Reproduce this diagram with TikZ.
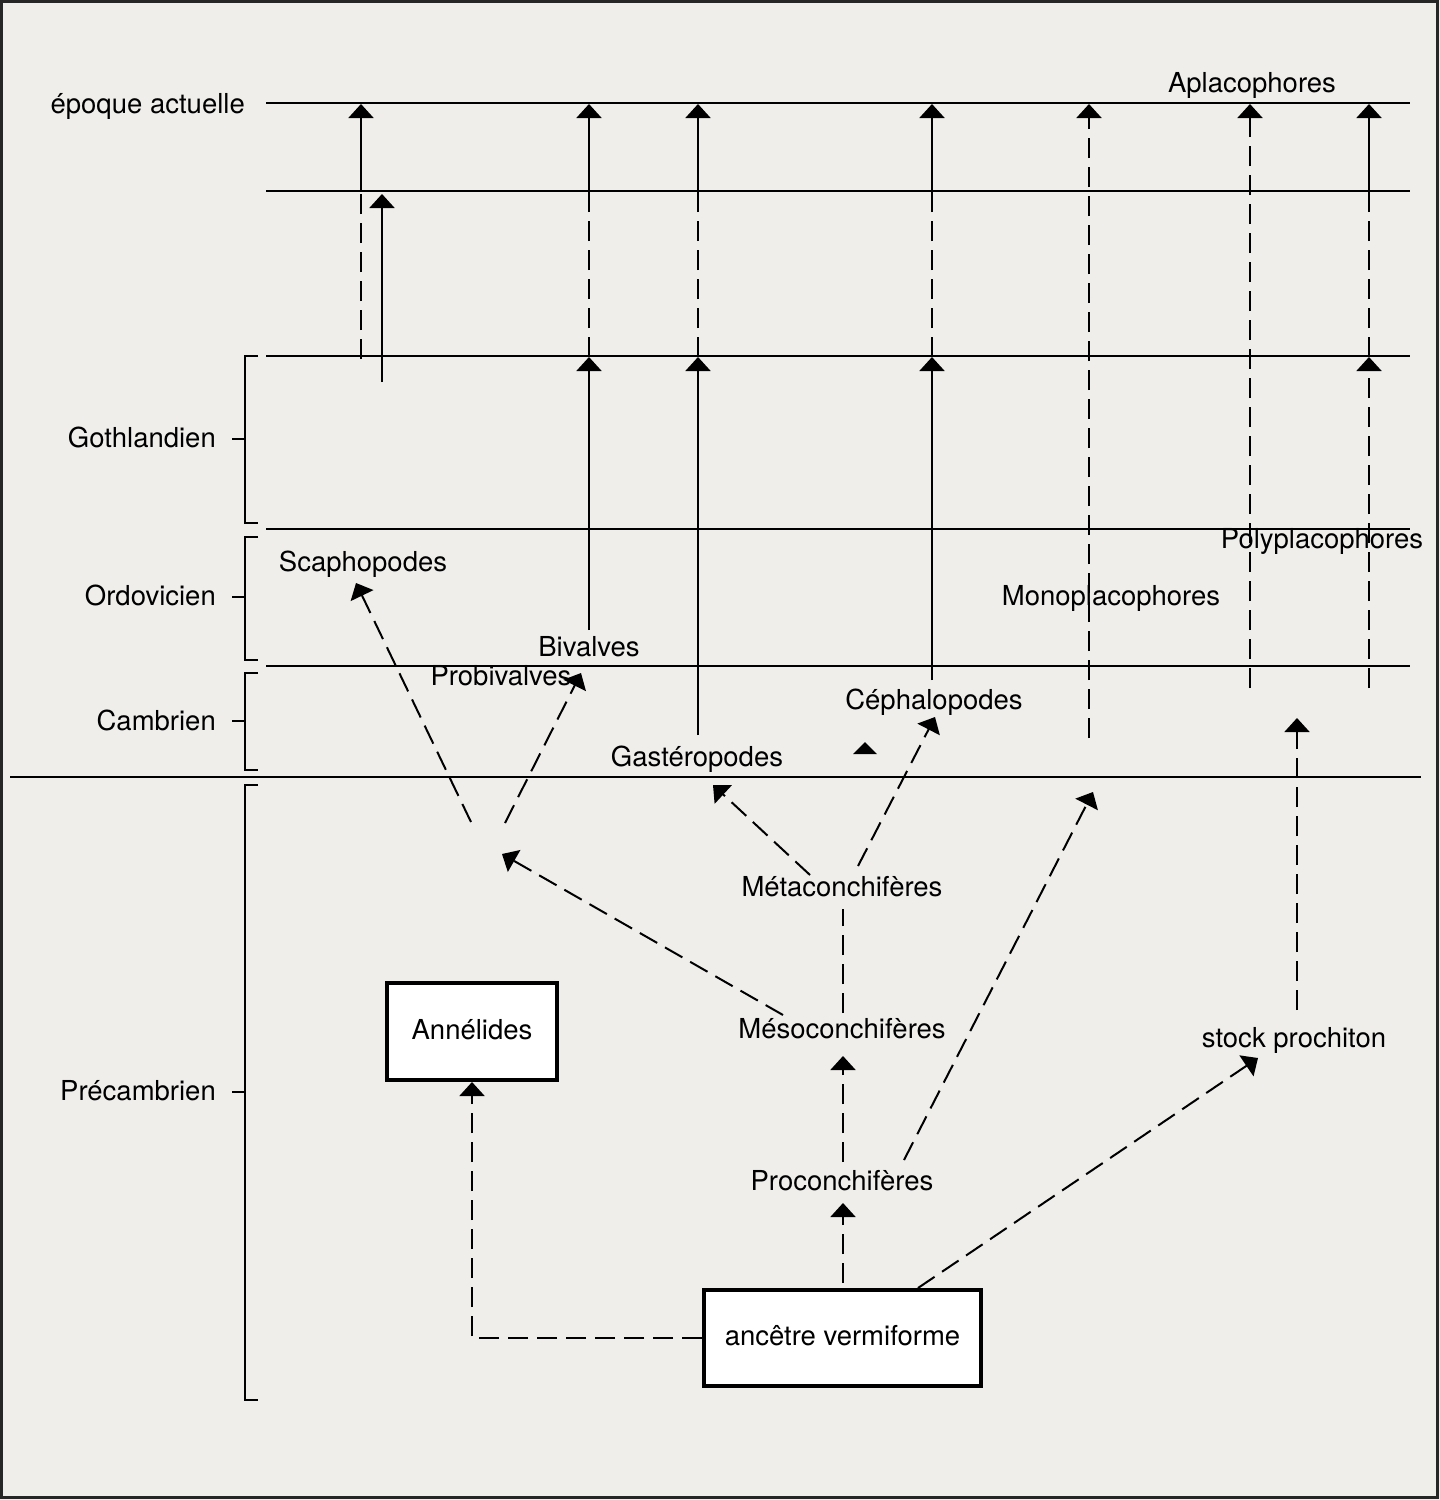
\documentclass[tikz,border=0pt]{standalone}
\usepackage{fontspec}
\setmainfont{TeX Gyre Heros}
\usetikzlibrary{arrows.meta}
\definecolor{bgc}{RGB}{240,238,235}
\newcommand{\labfont}{\fontsize{27.5}{31}\selectfont}
\begin{document}
\begin{tikzpicture}[x=1pt,y=-1pt,
  ln/.style={line width=2pt},
  dsh/.style={line width=2pt, dash pattern=on 20pt off 9pt},
  arw/.style={-{Triangle[width=25pt,length=14pt]}},
  brk/.style={line width=2.5pt},
  lbl/.style={inner sep=0pt, anchor=base, font=\labfont},
  box/.style={draw, line width=4pt, fill=white, inner sep=0pt, font=\labfont, text height=19pt, text depth=4pt}]
\fill[bgc] (0,0) rectangle (1440,1500);
\useasboundingbox (0,0) rectangle (1440,1500);
\draw[line width=3pt, draw=black!85] (1.5,1.5) rectangle (1437.5,1497.5);

% time lines
\foreach \yy in {103,191,356,529,666} \draw[ln] (266,\yy) -- (1410,\yy);
\draw[ln] (10,777) -- (1421,777);

% brackets
\draw[brk] (258,356) -- (245,356) -- (245,523) -- (258,523);
\draw[brk] (232,439) -- (245,439);
\draw[brk] (258,537) -- (245,537) -- (245,660) -- (258,660);
\draw[brk] (232,597) -- (245,597);
\draw[brk] (258,673) -- (245,673) -- (245,770) -- (258,770);
\draw[brk] (232,721) -- (245,721);
\draw[brk] (258,785) -- (245,785) -- (245,1400) -- (258,1400);
\draw[brk] (232,1092) -- (245,1092);

% period labels
\node[lbl, anchor=base east] (epoque) at (245,113) {époque actuelle};
\node[lbl, anchor=base east] (goth) at (216,447) {Gothlandien};
\node[lbl, anchor=base east] (ordo) at (216,605) {Ordovicien};
\node[lbl, anchor=base east] (camb) at (216,730) {Cambrien};
\node[lbl, anchor=base east] (preca) at (216,1100) {Précambrien};

% taxon labels
\node[lbl] (aplac) at (1252,92) {Aplacophores};
\node[lbl] (scaph) at (363,571) {Scaphopodes};
\node[lbl] (biv) at (589,656) {Bivalves};
\node[lbl] (probiv) at (501,685) {Probivalves};
\node[lbl] (gast) at (697,766) {Gastéropodes};
\node[lbl] (ceph) at (934,709) {Céphalopodes};
\node[lbl] (mono) at (1111,605) {Monoplacophores};
\node[lbl] (poly) at (1322,548) {Polyplacophores};
\node[lbl] (meta) at (842,896) {Métaconchifères};
\node[lbl] (meso) at (842,1038) {Mésoconchifères};
\node[lbl] (proc) at (842,1190) {Proconchifères};
\node[lbl] (stock) at (1294,1047) {stock prochiton};

\node[box, minimum width=277pt, minimum height=96pt] (anc) at (842.5,1338) {ancêtre vermiforme};
\node[box, minimum width=170pt, minimum height=97pt] (ann) at (472,1031.5) {Annélides};

% lineage coordinates
\coordinate (a1) at (361,359); \coordinate (a2) at (361,191); \coordinate (a3) at (361,104);
\coordinate (b1) at (382,382); \coordinate (b2) at (382,194);
\coordinate (c0) at (589,630); \coordinate (c1) at (589,357); \coordinate (c2) at (589,191); \coordinate (c3) at (589,104);
\coordinate (d0) at (698,735); \coordinate (d1) at (698,357); \coordinate (d2) at (698,191); \coordinate (d3) at (698,104);
\coordinate (e0) at (932,680); \coordinate (e1) at (932,357); \coordinate (e2) at (932,191); \coordinate (e3) at (932,104);
\coordinate (f0) at (1089,738); \coordinate (f3) at (1089,104);
\coordinate (g0) at (1250,688); \coordinate (g3) at (1250,104);
\coordinate (h0) at (1369,688); \coordinate (h1) at (1369,357); \coordinate (h2) at (1369,191); \coordinate (h3) at (1369,104);

% Scaphopodes lineage
\draw[dsh] (a1) -- (a2); \draw[ln,arw] (a2) -- (a3);
\draw[ln,arw] (b1) -- (b2);
% Bivalves
\draw[ln,arw] (c0) -- (c1); \draw[dsh] (c1) -- (c2); \draw[ln,arw] (c2) -- (c3);
% Gasteropodes
\draw[ln,arw] (d0) -- (d1); \draw[dsh] (d1) -- (d2); \draw[ln,arw] (d2) -- (d3);
% Cephalopodes
\draw[ln,arw] (e0) -- (e1); \draw[dsh] (e1) -- (e2); \draw[ln,arw] (e2) -- (e3);
% Monoplacophores
\draw[dsh,arw] (f0) -- (f3);
% Aplacophores
\draw[dsh,arw] (g0) -- (g3);
% Polyplacophores
\draw[dsh,arw] (h0) -- (h1); \draw[dsh] (h1) -- (h2); \draw[ln,arw] (h2) -- (h3);

% lone arrowhead
\fill (865,742) -- (877,754) -- (853,754) -- cycle;

% lower tree coordinates
\coordinate (scT) at (471,822); \coordinate (scH) at (356,583);
\coordinate (pbT) at (505,823); \coordinate (pbH) at (581,673);
\coordinate (gaT) at (810,875); \coordinate (gaH) at (713,785);
\coordinate (ceT) at (858,866); \coordinate (ceH) at (935,717);
\coordinate (brT) at (783,1015); \coordinate (brH) at (502,854);
\coordinate (mmT) at (843,1013); \coordinate (mmH) at (843,909);
\coordinate (moT) at (904,1160); \coordinate (moH) at (1093,792);
\coordinate (pmT) at (843,1162); \coordinate (pmH) at (843,1056);
\coordinate (apT) at (843,1283); \coordinate (apH) at (843,1203);
\coordinate (asT) at (918,1288); \coordinate (asH) at (1258,1058);
\coordinate (spT) at (1297,1010); \coordinate (spH) at (1297,718);

\draw[dsh,arw] (scT) -- (scH);
\draw[dsh,arw] (pbT) -- (pbH);
\draw[dsh,arw] (gaT) -- (gaH);
\draw[dsh,arw] (ceT) -- (ceH);
\draw[dsh,arw] (brT) -- (brH);
\draw[dsh] (mmT) -- (mmH);
\draw[dsh,arw] (moT) -- (moH);
\draw[dsh,arw] (pmT) -- (pmH);
\draw[dsh,arw] (apT) -- (apH);
\draw[dsh,arw] (asT) -- (asH);
\draw[dsh,arw] (spT) -- (spH);
\draw[dsh,arw] (anc.west) -| (ann.south);
\end{tikzpicture}
\end{document}
